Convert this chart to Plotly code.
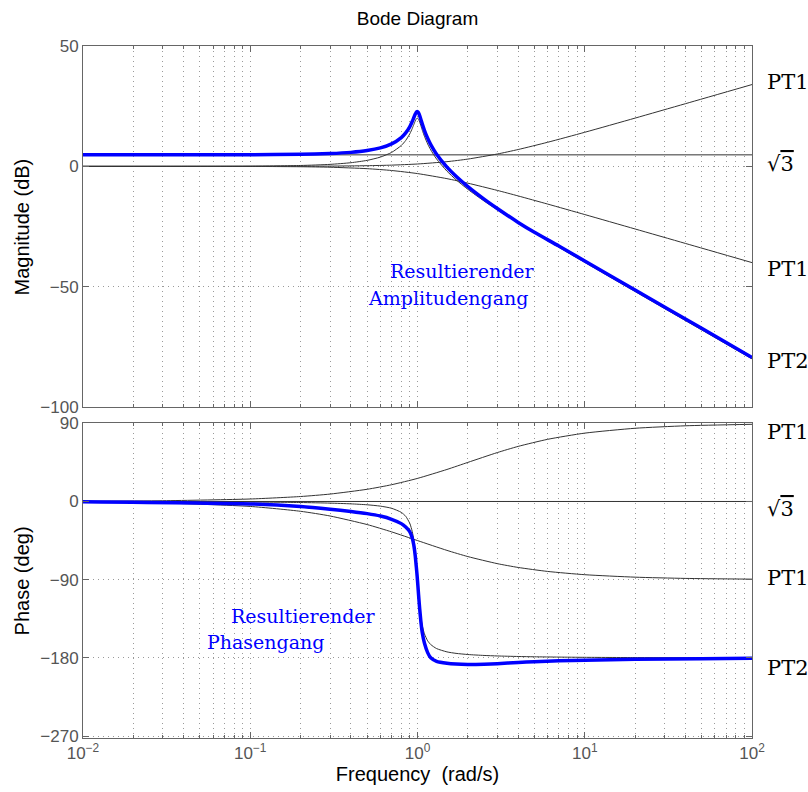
import plotly.graph_objects as go

# ---------------- data ----------------
freq_pt1 = [0.01, 0.03, 0.1, 0.2, 0.3, 0.5, 0.7, 1, 1.5, 2, 3, 4, 6, 10, 20, 40, 100]
pt1_lead_mag = [0.0, 0.001, 0.011, 0.043, 0.097, 0.263, 0.502, 0.969, 1.938, 3.010,
                5.119, 6.990, 10.0, 14.15, 20.04, 26.03, 33.98]
pt1_lead_phase = [0.29, 0.86, 2.86, 5.71, 8.53, 14.04, 19.29, 26.57, 36.87, 45.0,
                  56.31, 63.43, 71.57, 78.69, 84.29, 87.14, 88.85]
pt1_lag_mag = [0.0, -0.004, -0.043, -0.170, -0.374, -0.969, -1.732, -3.010, -5.119, -6.990,
               -10.0, -12.30, -15.68, -20.04, -26.03, -32.04, -40.0]
pt1_lag_phase = [-0.57, -1.72, -5.71, -11.31, -16.70, -26.57, -34.99, -45.0, -56.31, -63.43,
                 -71.57, -75.96, -80.54, -84.29, -87.14, -88.57, -89.43]

freq_const = [0.01, 100]
const_mag = [4.77, 4.77]
const_phase = [0.0, 0.0]

freq_pt2 = [0.01, 0.1, 0.2, 0.3, 0.4, 0.5, 0.6, 0.7, 0.8, 0.85, 0.9, 0.93, 0.95, 0.97, 0.98,
            0.99, 1.0, 1.01, 1.02, 1.03, 1.05, 1.07, 1.1, 1.15, 1.2, 1.3, 1.5, 1.7, 2, 2.5,
            3, 4, 5, 7, 10, 20, 50, 100]
pt2_mag = [0.0, 0.087, 0.353, 0.814, 1.505, 2.480, 3.839, 5.768, 8.665, 10.745, 13.546,
           15.70, 17.32, 18.89, 19.52, 19.92, 20.0, 19.75, 19.20, 18.44, 16.67, 14.89, 12.50,
           9.31, 6.82, 3.07, -2.00, -5.56, -9.56, -14.41, -18.07, -23.53, -27.61, -33.63,
           -39.91, -52.02, -67.96, -80.0]
pt2_phase = [-0.06, -0.58, -1.19, -1.89, -2.73, -3.81, -5.36, -7.82, -12.53, -17.03, -25.35,
             -34.54, -44.26, -58.65, -68.0, -78.64, -90.0, -101.25, -111.6, -120.59, -134.31,
             -143.56, -152.35, -160.37, -164.74, -169.33, -173.16, -174.86, -176.19, -177.27,
             -177.85, -178.47, -178.81, -179.16, -179.42, -179.71, -179.89, -179.94]

total_mag = [4.77, 4.83, 5.00, 5.31, 5.80, 6.55, 7.65, 9.31, 11.93, 13.88, 16.54, 18.62,
             20.18, 21.70, 22.30, 22.68, 22.73, 22.45, 21.88, 21.09, 19.27, 17.44, 14.98,
             11.66, 9.05, 5.07, -0.3, -4.1, -8.4, -13.6, -17.5, -23.3, -27.4, -33.1, -39.3,
             -51.4, -67.3, -79.4]
total_phase = [-0.3, -2.8, -5.8, -8.9, -11.5, -14.0, -16.8, -20.5, -25.5, -29.5, -35.0, -42.0,
               -50.0, -63.0, -72.0, -81.0, -91.0, -102.0, -113.0, -123.0, -140.0, -152.0,
               -163.0, -174.0, -180.0, -184.0, -186.3, -187.2, -187.6, -187.3, -186.7, -185.3,
               -184.5, -183.5, -182.8, -181.6, -181.0, -180.6]

freq_tickvals = [0.01, 0.1, 1, 10, 100]
freq_ticktext = ["10<sup>\u22122</sup>", "10<sup>\u22121</sup>", "10<sup>0</sup>",
                 "10<sup>1</sup>", "10<sup>2</sup>"]
mag_tickvals = [-100, -50, 0, 50]
phase_tickvals = [-270, -180, -90, 0, 90]

# ---------------- figure ----------------
thin = dict(color="#333333", width=1)
thick = dict(color="#0000ff", width=3.5)

fig = go.Figure()

def add(x, y, line, ax):
    fig.add_trace(go.Scatter(x=x, y=y, mode="lines", line=dict(shape="spline", smoothing=0.6, **line),
                             xaxis="x" if ax == 1 else "x2", yaxis="y" if ax == 1 else "y2",
                             showlegend=False, hoverinfo="skip"))

add(freq_const, const_mag, thin, 1)
add(freq_pt1, pt1_lead_mag, thin, 1)
add(freq_pt1, pt1_lag_mag, thin, 1)
add(freq_pt2, pt2_mag, thin, 1)
add(freq_pt2, total_mag, thick, 1)

add(freq_const, const_phase, thin, 2)
add(freq_pt1, pt1_lead_phase, thin, 2)
add(freq_pt1, pt1_lag_phase, thin, 2)
add(freq_pt2, pt2_phase, thin, 2)
add(freq_pt2, total_phase, thick, 2)

grid_col = "#9a9a9a"
axis_col = "#666666"
sans = "Liberation Sans, Arial, sans-serif"
tick_font = dict(family=sans, size=17, color="#555555")
title_font = dict(family=sans, size=19, color="#000000")
axtitle_font = dict(family=sans, size=20, color="#000000")

common = dict(showline=True, linecolor=axis_col, linewidth=1, mirror="allticks",
              ticks="inside", tickcolor=axis_col, ticklen=6, showgrid=True,
              gridcolor=grid_col, griddash="1px,4px", gridwidth=1, zeroline=False,
              tickfont=tick_font, automargin=False)

xcommon = dict(common, type="log", range=[-2, 2], tickmode="array",
               tickvals=freq_tickvals, ticktext=freq_ticktext,
               minor=dict(ticks="inside", ticklen=3, tickcolor=axis_col, dtick="D1",
                          showgrid=True, gridcolor=grid_col, griddash="1px,4px", gridwidth=1))

fig.update_layout(
    width=808, height=792, autosize=False,
    margin=dict(l=83, r=56, t=46, b=54, autoexpand=False),
    paper_bgcolor="white", plot_bgcolor="white",
    title=dict(text="Bode Diagram", x=0.5, xref="paper", y=1 - 18 / 792, yref="container",
               xanchor="center", yanchor="middle", font=title_font, automargin=False),
    xaxis=dict(xcommon, anchor="y", domain=[0, 1], showticklabels=False),
    xaxis2=dict(xcommon, anchor="y2", domain=[0, 1],
                title=dict(text="Frequency\u00a0 (rad/s)", font=axtitle_font, standoff=4)),
    yaxis=dict(common, anchor="x", domain=[0.47832, 1], range=[-100, 50],
               tickmode="array", tickvals=mag_tickvals),
    yaxis2=dict(common, anchor="x2", domain=[0, 0.45564], range=[-272.3, 90.7],
                tickmode="array", tickvals=phase_tickvals),
)

# y axis titles as rotated annotations for exact placement
fig.add_annotation(text="Magnitude (dB)", xref="paper", x=-0.0912, xanchor="center",
                   yref="paper", y=0.7392, yanchor="middle", textangle=-90,
                   showarrow=False, font=axtitle_font)
fig.add_annotation(text="Phase (deg)", xref="paper", x=-0.0912, xanchor="center",
                   yref="paper", y=0.2277, yanchor="middle", textangle=-90,
                   showarrow=False, font=axtitle_font)

serif = "DejaVu Serif, Liberation Serif, serif"
lab_font = dict(family=serif, size=21, color="#000000")
sqrt3 = "\u221a<span style='text-decoration:overline'>3</span>"

right_labels = [
    ("PT1", "y", 35), (sqrt3, "y", 1), ("PT1", "y", -42.6), ("PT2", "y", -81),
    ("PT1", "y2", 80), (sqrt3, "y2", -9), ("PT1", "y2", -88), ("PT2", "y2", -191.5),
]
for txt, yr, yv in right_labels:
    fig.add_annotation(text=txt, xref="paper", x=1.0194, xanchor="left",
                       yref=yr, y=yv, yanchor="middle", showarrow=False, font=lab_font)

blue_font = dict(family=serif, size=19, color="#0000ff")
blue_labels = [
    ("Resultierender", 0.5673, 0.6753),
    ("Amplitudengang", 0.5456, 0.6358),
    ("Resultierender", 0.3293, 0.1759),
    ("Phasengang", 0.2725, 0.1383),
]
for txt, xv, yv in blue_labels:
    fig.add_annotation(text=txt, xref="paper", x=xv, xanchor="center",
                       yref="paper", y=yv, yanchor="middle", showarrow=False, font=blue_font)

fig.write_html("out.html", config={"displayModeBar": False},
               post_script="document.body.style.margin='0px';document.body.style.overflow='hidden';")
